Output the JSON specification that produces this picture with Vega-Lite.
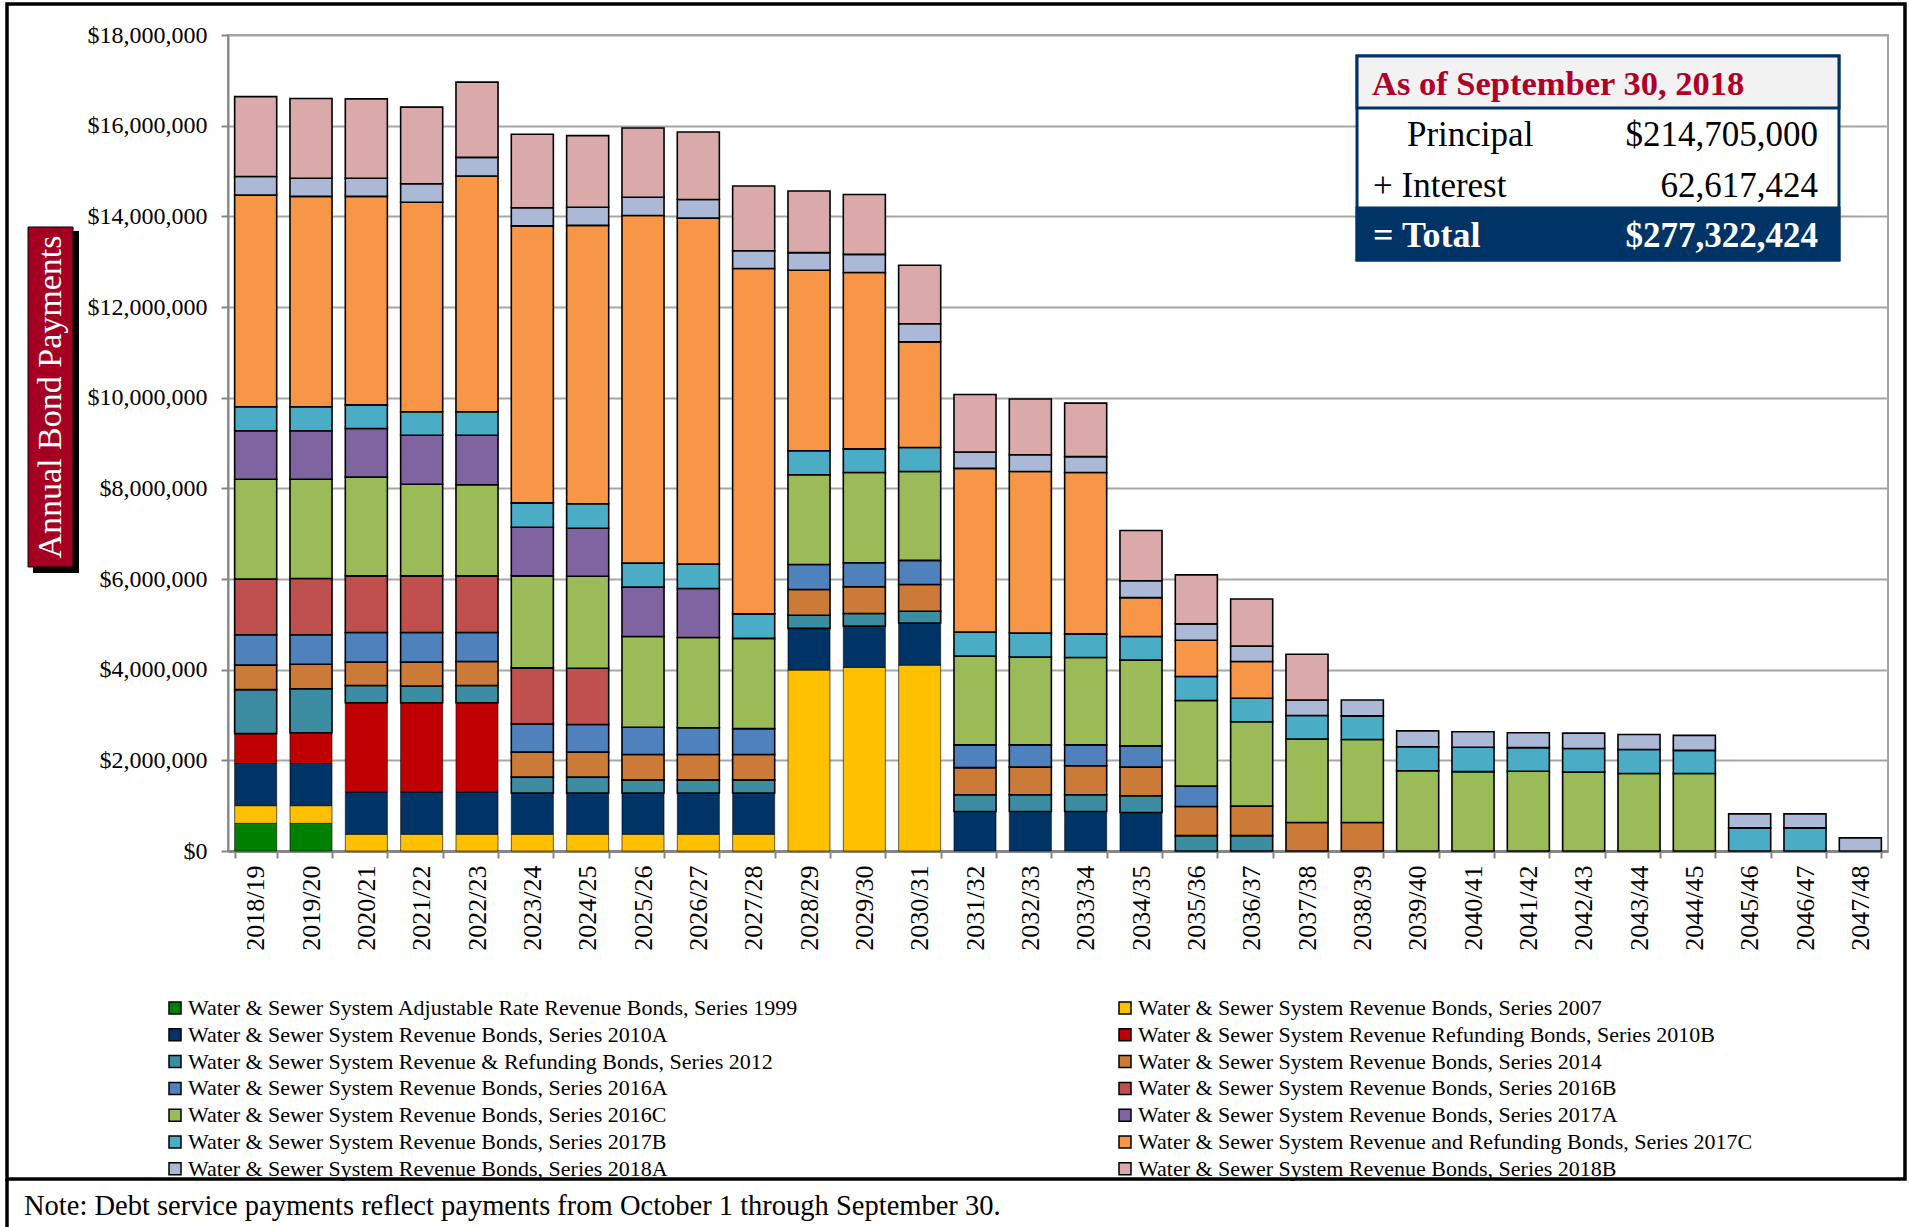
{
  "$schema": "https://vega.github.io/schema/vega-lite/v6.json",
  "width": 1660,
  "height": 816,
  "autosize": {"type": "none"},
  "padding": {"left": 228, "top": 35, "right": 21, "bottom": 376},
  "background": "white",
  "config": {
    "font": "Liberation Serif",
    "view": {"stroke": "#A6A6A6", "strokeWidth": 2},
    "axis": {"labelFont": "Liberation Serif", "labelColor": "black"},
    "legend": {"labelFont": "Liberation Serif"},
    "text": {"font": "Liberation Serif"}
  },
  "datasets": {
    "series": [
      {"s": "1999", "k": 1, "name": "Water & Sewer System Adjustable Rate Revenue Bonds, Series 1999"},
      {"s": "2007", "k": 2, "name": "Water & Sewer System Revenue Bonds, Series 2007"},
      {"s": "2010A", "k": 3, "name": "Water & Sewer System Revenue Bonds, Series 2010A"},
      {"s": "2010B", "k": 4, "name": "Water & Sewer System Revenue Refunding Bonds, Series 2010B"},
      {"s": "2012", "k": 5, "name": "Water & Sewer System Revenue & Refunding Bonds, Series 2012"},
      {"s": "2014", "k": 6, "name": "Water & Sewer System Revenue Bonds, Series 2014"},
      {"s": "2016A", "k": 7, "name": "Water & Sewer System Revenue Bonds, Series 2016A"},
      {"s": "2016B", "k": 8, "name": "Water & Sewer System Revenue Bonds, Series 2016B"},
      {"s": "2016C", "k": 9, "name": "Water & Sewer System Revenue Bonds, Series 2016C"},
      {"s": "2017A", "k": 10, "name": "Water & Sewer System Revenue Bonds, Series 2017A"},
      {"s": "2017B", "k": 11, "name": "Water & Sewer System Revenue Bonds, Series 2017B"},
      {"s": "2017C", "k": 12, "name": "Water & Sewer System Revenue and Refunding Bonds, Series 2017C"},
      {"s": "2018A", "k": 13, "name": "Water & Sewer System Revenue Bonds, Series 2018A"},
      {"s": "2018B", "k": 14, "name": "Water & Sewer System Revenue Bonds, Series 2018B"}
    ],
    "payments": [
      {"fy":"2018/19","s":"1999","v":610000},{"fy":"2018/19","s":"2007","v":390000},{"fy":"2018/19","s":"2010A","v":930000},{"fy":"2018/19","s":"2010B","v":660000},{"fy":"2018/19","s":"2012","v":970000},{"fy":"2018/19","s":"2014","v":540000},{"fy":"2018/19","s":"2016A","v":670000},{"fy":"2018/19","s":"2016B","v":1230000},{"fy":"2018/19","s":"2016C","v":2200000},{"fy":"2018/19","s":"2017A","v":1070000},{"fy":"2018/19","s":"2017B","v":530000},{"fy":"2018/19","s":"2017C","v":4670000},{"fy":"2018/19","s":"2018A","v":410000},{"fy":"2018/19","s":"2018B","v":1760000},
      {"fy":"2019/20","s":"1999","v":610000},{"fy":"2019/20","s":"2007","v":390000},{"fy":"2019/20","s":"2010A","v":930000},{"fy":"2019/20","s":"2010B","v":680000},{"fy":"2019/20","s":"2012","v":970000},{"fy":"2019/20","s":"2014","v":540000},{"fy":"2019/20","s":"2016A","v":650000},{"fy":"2019/20","s":"2016B","v":1240000},{"fy":"2019/20","s":"2016C","v":2190000},{"fy":"2019/20","s":"2017A","v":1070000},{"fy":"2019/20","s":"2017B","v":530000},{"fy":"2019/20","s":"2017C","v":4640000},{"fy":"2019/20","s":"2018A","v":400000},{"fy":"2019/20","s":"2018B","v":1760000},
      {"fy":"2020/21","s":"2007","v":370000},{"fy":"2020/21","s":"2010A","v":930000},{"fy":"2020/21","s":"2010B","v":1970000},{"fy":"2020/21","s":"2012","v":380000},{"fy":"2020/21","s":"2014","v":520000},{"fy":"2020/21","s":"2016A","v":650000},{"fy":"2020/21","s":"2016B","v":1250000},{"fy":"2020/21","s":"2016C","v":2180000},{"fy":"2020/21","s":"2017A","v":1070000},{"fy":"2020/21","s":"2017B","v":520000},{"fy":"2020/21","s":"2017C","v":4600000},{"fy":"2020/21","s":"2018A","v":400000},{"fy":"2020/21","s":"2018B","v":1750000},
      {"fy":"2021/22","s":"2007","v":370000},{"fy":"2021/22","s":"2010A","v":930000},{"fy":"2021/22","s":"2010B","v":1970000},{"fy":"2021/22","s":"2012","v":370000},{"fy":"2021/22","s":"2014","v":530000},{"fy":"2021/22","s":"2016A","v":650000},{"fy":"2021/22","s":"2016B","v":1250000},{"fy":"2021/22","s":"2016C","v":2020000},{"fy":"2021/22","s":"2017A","v":1080000},{"fy":"2021/22","s":"2017B","v":520000},{"fy":"2021/22","s":"2017C","v":4620000},{"fy":"2021/22","s":"2018A","v":410000},{"fy":"2021/22","s":"2018B","v":1690000},
      {"fy":"2022/23","s":"2007","v":370000},{"fy":"2022/23","s":"2010A","v":930000},{"fy":"2022/23","s":"2010B","v":1970000},{"fy":"2022/23","s":"2012","v":380000},{"fy":"2022/23","s":"2014","v":530000},{"fy":"2022/23","s":"2016A","v":640000},{"fy":"2022/23","s":"2016B","v":1250000},{"fy":"2022/23","s":"2016C","v":2010000},{"fy":"2022/23","s":"2017A","v":1090000},{"fy":"2022/23","s":"2017B","v":520000},{"fy":"2022/23","s":"2017C","v":5200000},{"fy":"2022/23","s":"2018A","v":410000},{"fy":"2022/23","s":"2018B","v":1660000},
      {"fy":"2023/24","s":"2007","v":370000},{"fy":"2023/24","s":"2010A","v":910000},{"fy":"2023/24","s":"2012","v":350000},{"fy":"2023/24","s":"2014","v":550000},{"fy":"2023/24","s":"2016A","v":620000},{"fy":"2023/24","s":"2016B","v":1240000},{"fy":"2023/24","s":"2016C","v":2030000},{"fy":"2023/24","s":"2017A","v":1070000},{"fy":"2023/24","s":"2017B","v":540000},{"fy":"2023/24","s":"2017C","v":6110000},{"fy":"2023/24","s":"2018A","v":400000},{"fy":"2023/24","s":"2018B","v":1620000},
      {"fy":"2024/25","s":"2007","v":370000},{"fy":"2024/25","s":"2010A","v":910000},{"fy":"2024/25","s":"2012","v":350000},{"fy":"2024/25","s":"2014","v":550000},{"fy":"2024/25","s":"2016A","v":610000},{"fy":"2024/25","s":"2016B","v":1240000},{"fy":"2024/25","s":"2016C","v":2030000},{"fy":"2024/25","s":"2017A","v":1060000},{"fy":"2024/25","s":"2017B","v":540000},{"fy":"2024/25","s":"2017C","v":6140000},{"fy":"2024/25","s":"2018A","v":400000},{"fy":"2024/25","s":"2018B","v":1580000},
      {"fy":"2025/26","s":"2007","v":370000},{"fy":"2025/26","s":"2010A","v":910000},{"fy":"2025/26","s":"2012","v":290000},{"fy":"2025/26","s":"2014","v":560000},{"fy":"2025/26","s":"2016A","v":600000},{"fy":"2025/26","s":"2016C","v":2000000},{"fy":"2025/26","s":"2017A","v":1090000},{"fy":"2025/26","s":"2017B","v":530000},{"fy":"2025/26","s":"2017C","v":7670000},{"fy":"2025/26","s":"2018A","v":400000},{"fy":"2025/26","s":"2018B","v":1530000},
      {"fy":"2026/27","s":"2007","v":370000},{"fy":"2026/27","s":"2010A","v":910000},{"fy":"2026/27","s":"2012","v":290000},{"fy":"2026/27","s":"2014","v":560000},{"fy":"2026/27","s":"2016A","v":590000},{"fy":"2026/27","s":"2016C","v":1990000},{"fy":"2026/27","s":"2017A","v":1080000},{"fy":"2026/27","s":"2017B","v":540000},{"fy":"2026/27","s":"2017C","v":7630000},{"fy":"2026/27","s":"2018A","v":410000},{"fy":"2026/27","s":"2018B","v":1490000},
      {"fy":"2027/28","s":"2007","v":370000},{"fy":"2027/28","s":"2010A","v":910000},{"fy":"2027/28","s":"2012","v":290000},{"fy":"2027/28","s":"2014","v":560000},{"fy":"2027/28","s":"2016A","v":570000},{"fy":"2027/28","s":"2016C","v":1990000},{"fy":"2027/28","s":"2017B","v":540000},{"fy":"2027/28","s":"2017C","v":7620000},{"fy":"2027/28","s":"2018A","v":390000},{"fy":"2027/28","s":"2018B","v":1430000},
      {"fy":"2028/29","s":"2007","v":3990000},{"fy":"2028/29","s":"2010A","v":920000},{"fy":"2028/29","s":"2012","v":290000},{"fy":"2028/29","s":"2014","v":570000},{"fy":"2028/29","s":"2016A","v":550000},{"fy":"2028/29","s":"2016C","v":1980000},{"fy":"2028/29","s":"2017B","v":530000},{"fy":"2028/29","s":"2017C","v":3980000},{"fy":"2028/29","s":"2018A","v":390000},{"fy":"2028/29","s":"2018B","v":1360000},
      {"fy":"2029/30","s":"2007","v":4050000},{"fy":"2029/30","s":"2010A","v":910000},{"fy":"2029/30","s":"2012","v":280000},{"fy":"2029/30","s":"2014","v":590000},{"fy":"2029/30","s":"2016A","v":530000},{"fy":"2029/30","s":"2016C","v":1990000},{"fy":"2029/30","s":"2017B","v":520000},{"fy":"2029/30","s":"2017C","v":3890000},{"fy":"2029/30","s":"2018A","v":400000},{"fy":"2029/30","s":"2018B","v":1320000},
      {"fy":"2030/31","s":"2007","v":4100000},{"fy":"2030/31","s":"2010A","v":930000},{"fy":"2030/31","s":"2012","v":260000},{"fy":"2030/31","s":"2014","v":590000},{"fy":"2030/31","s":"2016A","v":530000},{"fy":"2030/31","s":"2016C","v":1960000},{"fy":"2030/31","s":"2017B","v":530000},{"fy":"2030/31","s":"2017C","v":2330000},{"fy":"2030/31","s":"2018A","v":400000},{"fy":"2030/31","s":"2018B","v":1290000},
      {"fy":"2031/32","s":"2010A","v":870000},{"fy":"2031/32","s":"2012","v":370000},{"fy":"2031/32","s":"2014","v":600000},{"fy":"2031/32","s":"2016A","v":500000},{"fy":"2031/32","s":"2016C","v":1960000},{"fy":"2031/32","s":"2017B","v":530000},{"fy":"2031/32","s":"2017C","v":3610000},{"fy":"2031/32","s":"2018A","v":360000},{"fy":"2031/32","s":"2018B","v":1270000},
      {"fy":"2032/33","s":"2010A","v":870000},{"fy":"2032/33","s":"2012","v":370000},{"fy":"2032/33","s":"2014","v":610000},{"fy":"2032/33","s":"2016A","v":490000},{"fy":"2032/33","s":"2016C","v":1940000},{"fy":"2032/33","s":"2017B","v":530000},{"fy":"2032/33","s":"2017C","v":3560000},{"fy":"2032/33","s":"2018A","v":370000},{"fy":"2032/33","s":"2018B","v":1230000},
      {"fy":"2033/34","s":"2010A","v":870000},{"fy":"2033/34","s":"2012","v":370000},{"fy":"2033/34","s":"2014","v":640000},{"fy":"2033/34","s":"2016A","v":460000},{"fy":"2033/34","s":"2016C","v":1930000},{"fy":"2033/34","s":"2017B","v":520000},{"fy":"2033/34","s":"2017C","v":3560000},{"fy":"2033/34","s":"2018A","v":350000},{"fy":"2033/34","s":"2018B","v":1180000},
      {"fy":"2034/35","s":"2010A","v":850000},{"fy":"2034/35","s":"2012","v":370000},{"fy":"2034/35","s":"2014","v":630000},{"fy":"2034/35","s":"2016A","v":470000},{"fy":"2034/35","s":"2016C","v":1890000},{"fy":"2034/35","s":"2017B","v":520000},{"fy":"2034/35","s":"2017C","v":860000},{"fy":"2034/35","s":"2018A","v":370000},{"fy":"2034/35","s":"2018B","v":1110000},
      {"fy":"2035/36","s":"2012","v":340000},{"fy":"2035/36","s":"2014","v":640000},{"fy":"2035/36","s":"2016A","v":450000},{"fy":"2035/36","s":"2016C","v":1890000},{"fy":"2035/36","s":"2017B","v":530000},{"fy":"2035/36","s":"2017C","v":800000},{"fy":"2035/36","s":"2018A","v":360000},{"fy":"2035/36","s":"2018B","v":1080000},
      {"fy":"2036/37","s":"2012","v":340000},{"fy":"2036/37","s":"2014","v":650000},{"fy":"2036/37","s":"2016C","v":1860000},{"fy":"2036/37","s":"2017B","v":520000},{"fy":"2036/37","s":"2017C","v":810000},{"fy":"2036/37","s":"2018A","v":340000},{"fy":"2036/37","s":"2018B","v":1040000},
      {"fy":"2037/38","s":"2014","v":630000},{"fy":"2037/38","s":"2016C","v":1840000},{"fy":"2037/38","s":"2017B","v":520000},{"fy":"2037/38","s":"2018A","v":340000},{"fy":"2037/38","s":"2018B","v":1010000},
      {"fy":"2038/39","s":"2014","v":630000},{"fy":"2038/39","s":"2016C","v":1830000},{"fy":"2038/39","s":"2017B","v":520000},{"fy":"2038/39","s":"2018A","v":350000},
      {"fy":"2039/40","s":"2016C","v":1770000},{"fy":"2039/40","s":"2017B","v":530000},{"fy":"2039/40","s":"2018A","v":350000},
      {"fy":"2040/41","s":"2016C","v":1750000},{"fy":"2040/41","s":"2017B","v":540000},{"fy":"2040/41","s":"2018A","v":340000},
      {"fy":"2041/42","s":"2016C","v":1760000},{"fy":"2041/42","s":"2017B","v":520000},{"fy":"2041/42","s":"2018A","v":330000},
      {"fy":"2042/43","s":"2016C","v":1740000},{"fy":"2042/43","s":"2017B","v":520000},{"fy":"2042/43","s":"2018A","v":340000},
      {"fy":"2043/44","s":"2016C","v":1710000},{"fy":"2043/44","s":"2017B","v":530000},{"fy":"2043/44","s":"2018A","v":330000},
      {"fy":"2044/45","s":"2016C","v":1710000},{"fy":"2044/45","s":"2017B","v":510000},{"fy":"2044/45","s":"2018A","v":330000},
      {"fy":"2045/46","s":"2017B","v":510000},{"fy":"2045/46","s":"2018A","v":310000},
      {"fy":"2046/47","s":"2017B","v":510000},{"fy":"2046/47","s":"2018A","v":310000},
      {"fy":"2047/48","s":"2018A","v":290000}
    ]
  },
  "layer": [
    {
      "data": {"name": "payments"},
      "transform": [
        {"lookup": "s", "from": {"data": {"name": "series"}, "key": "s", "fields": ["name", "k"]}}
      ],
      "mark": {"type": "bar", "stroke": "black"},
      "encoding": {
        "x": {
          "field": "fy", "type": "nominal", "sort": null,
          "scale": {"paddingInner": 0.24, "paddingOuter": 0.12},
          "axis": {
            "title": null, "labelAngle": -90, "labelFontSize": 26, "labelPadding": 7,
            "tickBand": "extent", "tickSize": 7, "tickWidth": 2, "tickColor": "#868686",
            "domainColor": "#868686", "domainWidth": 3, "grid": false
          }
        },
        "y": {
          "field": "v", "type": "quantitative", "stack": "zero",
          "scale": {"domain": [0, 18000000], "nice": false},
          "axis": {
            "title": null, "values": [0, 2000000, 4000000, 6000000, 8000000, 10000000, 12000000, 14000000, 16000000, 18000000],
            "format": "$,.0f", "labelFontSize": 24, "labelPadding": 14,
            "grid": true, "gridColor": "#A6A6A6", "gridWidth": 2,
            "domainColor": "#868686", "domainWidth": 2,
            "tickColor": "#868686", "tickSize": 7, "tickWidth": 2
          }
        },
        "color": {
          "field": "name", "type": "nominal",
          "scale": {
            "domain": [
              "Water & Sewer System Adjustable Rate Revenue Bonds, Series 1999",
              "Water & Sewer System Revenue Bonds, Series 2010A",
              "Water & Sewer System Revenue & Refunding Bonds, Series 2012",
              "Water & Sewer System Revenue Bonds, Series 2016A",
              "Water & Sewer System Revenue Bonds, Series 2016C",
              "Water & Sewer System Revenue Bonds, Series 2017B",
              "Water & Sewer System Revenue Bonds, Series 2018A",
              "Water & Sewer System Revenue Bonds, Series 2007",
              "Water & Sewer System Revenue Refunding Bonds, Series 2010B",
              "Water & Sewer System Revenue Bonds, Series 2014",
              "Water & Sewer System Revenue Bonds, Series 2016B",
              "Water & Sewer System Revenue Bonds, Series 2017A",
              "Water & Sewer System Revenue and Refunding Bonds, Series 2017C",
              "Water & Sewer System Revenue Bonds, Series 2018B"
            ],
            "range": ["#008000", "#003366", "#3C8CA2", "#4F81BD", "#9BBB59", "#4BACC6", "#ABB9D7", "#FFC000", "#C00000", "#CB7A38", "#C0504D", "#8064A2", "#F79646", "#DAAAAB"]
          },
          "legend": {
            "title": null, "orient": "none", "legendX": -64, "legendY": 962,
            "columns": 2, "columnPadding": 315, "rowPadding": 4.8, "padding": 0,
            "symbolType": "square", "symbolSize": 144, "symbolStrokeColor": "black", "symbolStrokeWidth": 1.5,
            "labelFontSize": 22, "labelLimit": 900, "labelOffset": 2, "labelColor": "black"
          }
        },
        "order": {"field": "k", "type": "quantitative"},
        "strokeWidth": {"condition": {"test": "datum.k <= 4", "value": 0.6}, "value": 1.6}
      }
    },
    {
      "data": {"values": [{}]},
      "mark": {"type": "rect", "fillOpacity": 0, "stroke": "black", "strokeWidth": 3.5},
      "encoding": {
        "x": {"datum": -3.994, "type": "quantitative", "scale": {"domain": [0, 30], "nice": false, "zero": false}, "axis": null},
        "x2": {"datum": 30.307},
        "y": {"datum": -7235000, "type": "quantitative", "scale": {"domain": [0, 18000000], "nice": false, "zero": false}, "axis": null},
        "y2": {"datum": 18684000}
      }
    },
    {
      "data": {"values": [{}]},
      "mark": {"type": "rule", "stroke": "black", "strokeWidth": 3.5},
      "encoding": {
        "x": {"datum": -3.994, "type": "quantitative", "scale": {"domain": [0, 30], "nice": false, "zero": false}, "axis": null},
        "y": {"datum": -8400000, "type": "quantitative", "scale": {"domain": [0, 18000000], "nice": false, "zero": false}, "axis": null},
        "y2": {"datum": -7235000}
      }
    },
    {
      "data": {"values": [{}]},
      "mark": {"type": "rect", "fill": "black"},
      "encoding": {
        "x": {"datum": -3.524, "type": "quantitative", "scale": {"domain": [0, 30], "nice": false, "zero": false}, "axis": null},
        "x2": {"datum": -2.693},
        "y": {"datum": 6132000, "type": "quantitative", "scale": {"domain": [0, 18000000], "nice": false, "zero": false}, "axis": null},
        "y2": {"datum": 13677000}
      }
    },
    {
      "data": {"values": [{}]},
      "mark": {"type": "rect", "fill": "#A50021", "stroke": "black", "strokeWidth": 1},
      "encoding": {
        "x": {"datum": -3.614, "type": "quantitative", "scale": {"domain": [0, 30], "nice": false, "zero": false}, "axis": null},
        "x2": {"datum": -2.801},
        "y": {"datum": 6265000, "type": "quantitative", "scale": {"domain": [0, 18000000], "nice": false, "zero": false}, "axis": null},
        "y2": {"datum": 13765000}
      }
    },
    {
      "data": {"values": [{}]},
      "mark": {"type": "text", "text": "Annual Bond Payments", "angle": 270, "align": "center", "baseline": "middle", "fontSize": 34, "color": "white"},
      "encoding": {
        "x": {"datum": -3.199, "type": "quantitative", "scale": {"domain": [0, 30], "nice": false, "zero": false}, "axis": null},
        "y": {"datum": 10015000, "type": "quantitative", "scale": {"domain": [0, 18000000], "nice": false, "zero": false}, "axis": null}
      }
    },
    {
      "data": {"values": [{}]},
      "mark": {"type": "rect", "fill": "white", "stroke": "#003366", "strokeWidth": 3},
      "encoding": {
        "x": {"datum": 20.404, "type": "quantitative", "scale": {"domain": [0, 30], "nice": false, "zero": false}, "axis": null},
        "x2": {"datum": 29.114},
        "y": {"datum": 13037000, "type": "quantitative", "scale": {"domain": [0, 18000000], "nice": false, "zero": false}, "axis": null},
        "y2": {"datum": 17537000}
      }
    },
    {
      "data": {"values": [{}]},
      "mark": {"type": "rect", "fill": "#F2F2F2", "stroke": "#003366", "strokeWidth": 3},
      "encoding": {
        "x": {"datum": 20.404, "type": "quantitative", "scale": {"domain": [0, 30], "nice": false, "zero": false}, "axis": null},
        "x2": {"datum": 29.114},
        "y": {"datum": 16390000, "type": "quantitative", "scale": {"domain": [0, 18000000], "nice": false, "zero": false}, "axis": null},
        "y2": {"datum": 17537000}
      }
    },
    {
      "data": {"values": [{}]},
      "mark": {"type": "rect", "fill": "#003366", "stroke": "#003366", "strokeWidth": 3},
      "encoding": {
        "x": {"datum": 20.404, "type": "quantitative", "scale": {"domain": [0, 30], "nice": false, "zero": false}, "axis": null},
        "x2": {"datum": 29.114},
        "y": {"datum": 13037000, "type": "quantitative", "scale": {"domain": [0, 18000000], "nice": false, "zero": false}, "axis": null},
        "y2": {"datum": 14184000}
      }
    },
    {
      "data": {"values": [{}]},
      "mark": {"type": "text", "text": "As of September 30, 2018", "align": "left", "baseline": "alphabetic", "fontSize": 34.5, "fontWeight": "bold", "color": "#B0002A"},
      "encoding": {
        "x": {"datum": 20.675, "type": "quantitative", "scale": {"domain": [0, 30], "nice": false, "zero": false}, "axis": null},
        "y": {"datum": 16676000, "type": "quantitative", "scale": {"domain": [0, 18000000], "nice": false, "zero": false}, "axis": null}
      }
    },
    {
      "data": {"values": [{}]},
      "mark": {"type": "text", "text": "Principal", "align": "left", "baseline": "alphabetic", "fontSize": 35, "color": "black"},
      "encoding": {
        "x": {"datum": 21.307, "type": "quantitative", "scale": {"domain": [0, 30], "nice": false, "zero": false}, "axis": null},
        "y": {"datum": 15551000, "type": "quantitative", "scale": {"domain": [0, 18000000], "nice": false, "zero": false}, "axis": null}
      }
    },
    {
      "data": {"values": [{}]},
      "mark": {"type": "text", "text": "$214,705,000", "align": "right", "baseline": "alphabetic", "fontSize": 35, "color": "black"},
      "encoding": {
        "x": {"datum": 28.735, "type": "quantitative", "scale": {"domain": [0, 30], "nice": false, "zero": false}, "axis": null},
        "y": {"datum": 15551000, "type": "quantitative", "scale": {"domain": [0, 18000000], "nice": false, "zero": false}, "axis": null}
      }
    },
    {
      "data": {"values": [{}]},
      "mark": {"type": "text", "text": "+ Interest", "align": "left", "baseline": "alphabetic", "fontSize": 35, "color": "black"},
      "encoding": {
        "x": {"datum": 20.693, "type": "quantitative", "scale": {"domain": [0, 30], "nice": false, "zero": false}, "axis": null},
        "y": {"datum": 14426000, "type": "quantitative", "scale": {"domain": [0, 18000000], "nice": false, "zero": false}, "axis": null}
      }
    },
    {
      "data": {"values": [{}]},
      "mark": {"type": "text", "text": "62,617,424", "align": "right", "baseline": "alphabetic", "fontSize": 35, "color": "black"},
      "encoding": {
        "x": {"datum": 28.735, "type": "quantitative", "scale": {"domain": [0, 30], "nice": false, "zero": false}, "axis": null},
        "y": {"datum": 14426000, "type": "quantitative", "scale": {"domain": [0, 18000000], "nice": false, "zero": false}, "axis": null}
      }
    },
    {
      "data": {"values": [{}]},
      "mark": {"type": "text", "text": "= Total", "align": "left", "baseline": "alphabetic", "fontSize": 36, "fontWeight": "bold", "color": "white"},
      "encoding": {
        "x": {"datum": 20.693, "type": "quantitative", "scale": {"domain": [0, 30], "nice": false, "zero": false}, "axis": null},
        "y": {"datum": 13324000, "type": "quantitative", "scale": {"domain": [0, 18000000], "nice": false, "zero": false}, "axis": null}
      }
    },
    {
      "data": {"values": [{}]},
      "mark": {"type": "text", "text": "$277,322,424", "align": "right", "baseline": "alphabetic", "fontSize": 35, "fontWeight": "bold", "color": "white"},
      "encoding": {
        "x": {"datum": 28.735, "type": "quantitative", "scale": {"domain": [0, 30], "nice": false, "zero": false}, "axis": null},
        "y": {"datum": 13324000, "type": "quantitative", "scale": {"domain": [0, 18000000], "nice": false, "zero": false}, "axis": null}
      }
    },
    {
      "data": {"values": [{}]},
      "mark": {"type": "text", "text": "Note: Debt service payments reflect payments from October 1 through September 30.", "align": "left", "baseline": "alphabetic", "fontSize": 28.5, "color": "black"},
      "encoding": {
        "x": {"datum": -3.687, "type": "quantitative", "scale": {"domain": [0, 30], "nice": false, "zero": false}, "axis": null},
        "y": {"datum": -8029000, "type": "quantitative", "scale": {"domain": [0, 18000000], "nice": false, "zero": false}, "axis": null}
      }
    }
  ],
  "resolve": {"scale": {"x": "independent", "y": "independent"}}
}
